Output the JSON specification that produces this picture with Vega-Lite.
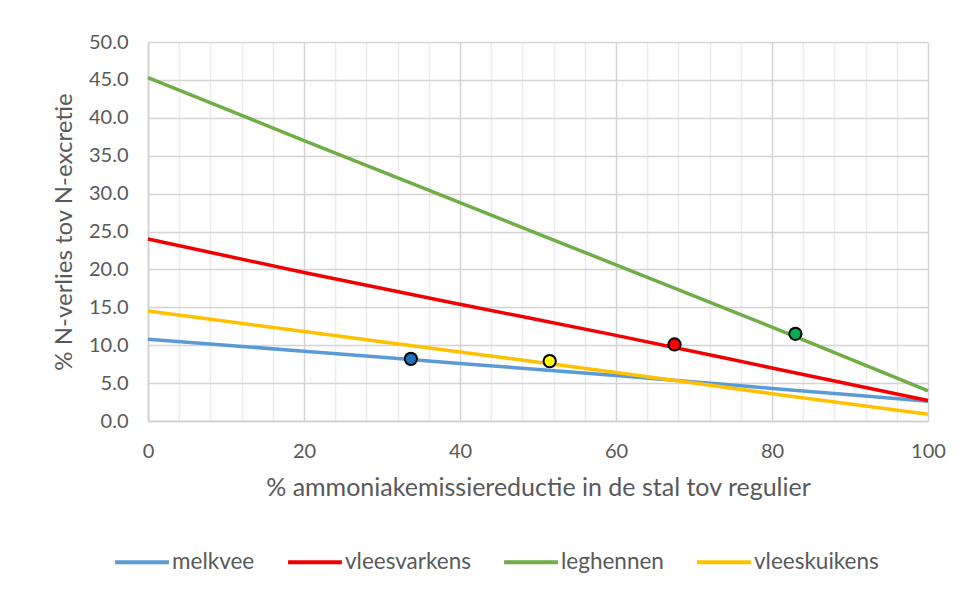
{
  "$schema": "https://vega.github.io/schema/vega-lite/v6.json",
  "width": 780,
  "height": 379,
  "autosize": {"type": "none"},
  "padding": {"left": 148, "top": 42, "right": 35, "bottom": 173},
  "background": "white",
  "config": {
    "font": "Lato",
    "view": {"stroke": null},
    "axis": {"labelFont": "Lato", "titleFont": "Lato", "labelColor": "#595959", "titleColor": "#595959", "titleFontWeight": "normal", "labelOverlap": false}
  },
  "datasets": {
    "lines": [
      {"reductie": 0, "verlies": 10.8, "sector": "melkvee"},
      {"reductie": 20, "verlies": 9.2, "sector": "melkvee"},
      {"reductie": 40, "verlies": 7.6, "sector": "melkvee"},
      {"reductie": 60, "verlies": 6.0, "sector": "melkvee"},
      {"reductie": 80, "verlies": 4.3, "sector": "melkvee"},
      {"reductie": 100, "verlies": 2.6, "sector": "melkvee"},
      {"reductie": 0, "verlies": 24.0, "sector": "vleesvarkens"},
      {"reductie": 20, "verlies": 19.6, "sector": "vleesvarkens"},
      {"reductie": 40, "verlies": 15.4, "sector": "vleesvarkens"},
      {"reductie": 60, "verlies": 11.3, "sector": "vleesvarkens"},
      {"reductie": 80, "verlies": 7.0, "sector": "vleesvarkens"},
      {"reductie": 100, "verlies": 2.7, "sector": "vleesvarkens"},
      {"reductie": 0, "verlies": 45.3, "sector": "leghennen"},
      {"reductie": 20, "verlies": 37.0, "sector": "leghennen"},
      {"reductie": 40, "verlies": 28.8, "sector": "leghennen"},
      {"reductie": 60, "verlies": 20.6, "sector": "leghennen"},
      {"reductie": 80, "verlies": 12.4, "sector": "leghennen"},
      {"reductie": 100, "verlies": 4.0, "sector": "leghennen"},
      {"reductie": 0, "verlies": 14.5, "sector": "vleeskuikens"},
      {"reductie": 20, "verlies": 11.8, "sector": "vleeskuikens"},
      {"reductie": 40, "verlies": 9.1, "sector": "vleeskuikens"},
      {"reductie": 60, "verlies": 6.4, "sector": "vleeskuikens"},
      {"reductie": 80, "verlies": 3.6, "sector": "vleeskuikens"},
      {"reductie": 100, "verlies": 0.9, "sector": "vleeskuikens"}
    ],
    "points": [
      {"reductie": 33.7, "verlies": 8.2, "sector": "melkvee"},
      {"reductie": 67.5, "verlies": 10.1, "sector": "vleesvarkens"},
      {"reductie": 83.0, "verlies": 11.5, "sector": "leghennen"},
      {"reductie": 51.5, "verlies": 7.9, "sector": "vleeskuikens"}
    ]
  },
  "encoding": {
    "x": {
      "field": "reductie", "type": "quantitative",
      "scale": {"domain": [0, 100], "nice": false},
      "axis": {
        "title": "% ammoniakemissiereductie in de stal tov regulier",
        "values": [0,4,8,12,16,20,24,28,32,36,40,44,48,52,56,60,64,68,72,76,80,84,88,92,96,100],
        "labelExpr": "datum.value % 20 === 0 ? datum.label : ''",
        "labelOverlap": false,
        "labelFlush": false,
        "labelBound": false,
        "gridColor": {"condition": {"test": "datum.value % 20 === 0", "value": "#d4d4d4"}, "value": "#ececec"},
        "gridWidth": 1.5,
        "ticks": false,
        "domainColor": "#d0d0d0",
        "domainWidth": 1.5,
        "labelFontSize": 20,
        "labelPadding": 20,
        "titleFontSize": 25,
        "titlePadding": 14
      }
    },
    "y": {
      "field": "verlies", "type": "quantitative",
      "scale": {"domain": [0, 50], "nice": false},
      "axis": {
        "title": "% N-verlies tov N-excretie",
        "values": [0,5,10,15,20,25,30,35,40,45,50],
        "format": ".1f",
        "labelOverlap": false,
        "labelFlush": false,
        "labelBound": false,
        "gridColor": "#d4d4d4",
        "gridWidth": 1.5,
        "ticks": false,
        "domainColor": "#d0d0d0",
        "domainWidth": 1.5,
        "labelFontSize": 20,
        "labelPadding": 20,
        "titleFontSize": 24,
        "titlePadding": 12
      }
    }
  },
  "layer": [
    {
      "data": {"name": "lines"},
      "mark": {"type": "line", "strokeWidth": 3.5, "interpolate": "monotone"},
      "encoding": {
        "color": {
          "field": "sector", "type": "nominal",
          "scale": {"domain": ["melkvee", "vleesvarkens", "leghennen", "vleeskuikens"], "range": ["#5b9bd5", "#f00000", "#70ad47", "#ffc000"]},
          "legend": {
            "title": null,
            "orient": "none",
            "direction": "horizontal",
            "legendX": -35,
            "legendY": 491,
            "symbolType": "stroke",
            "symbolSize": 2900,
            "symbolStrokeWidth": 4,
            "labelFontSize": 22.5,
            "labelColor": "#595959",
            "labelFont": "Lato",
            "labelOffset": 1,
            "columnPadding": 25
          }
        }
      }
    },
    {
      "data": {"name": "points"},
      "mark": {"type": "point", "filled": true, "size": 150, "stroke": "black", "strokeWidth": 2, "opacity": 1},
      "encoding": {
        "fill": {
          "field": "sector", "type": "nominal",
          "scale": {"domain": ["melkvee", "vleesvarkens", "leghennen", "vleeskuikens"], "range": ["#1f6fbf", "#ff0000", "#00b050", "#ffff00"]},
          "legend": null
        }
      }
    }
  ]
}
